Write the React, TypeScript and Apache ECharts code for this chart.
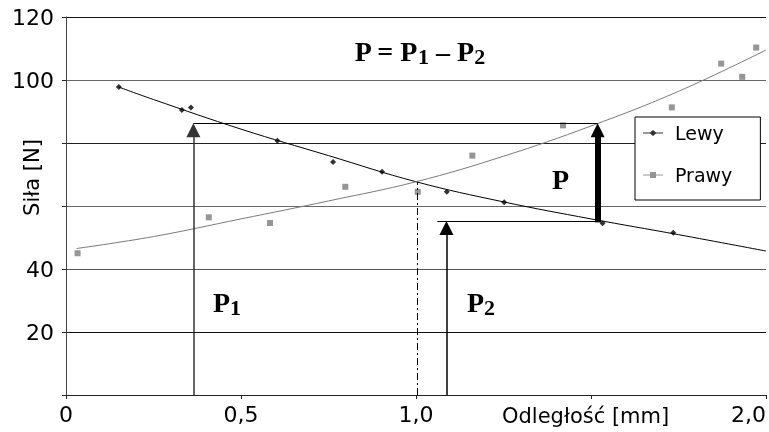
import React, { useEffect, useRef } from 'react';
import * as echarts from 'echarts';

// Measured points
const lewyX = [0.151, 0.331, 0.357, 0.604, 0.763, 0.903, 1.088, 1.252, 1.533, 1.735];
const lewyY = [97.8, 90.5, 91.3, 80.7, 74.0, 70.9, 64.5, 61.2, 54.5, 51.5];
const prawyX = [0.033, 0.408, 0.583, 0.798, 1.005, 1.161, 1.42, 1.731, 1.872, 1.932, 1.972];
const prawyY = [45.0, 56.4, 54.6, 66.1, 64.5, 76.0, 85.6, 91.3, 105.2, 101.0, 110.3];

// Trend lines
const lewyTrendX = [0.15, 0.25, 0.5, 0.75, 1.0, 1.25, 1.5, 1.75, 2.0];
const lewyTrendY = [97.8, 93.8, 84.4, 76.0, 67.7, 61.3, 55.9, 50.9, 45.7];
const prawyTrendX = [0.03, 0.25, 0.5, 0.75, 1.0, 1.25, 1.5, 1.75, 2.0];
const prawyTrendY = [46.5, 50.3, 55.9, 61.6, 67.7, 75.8, 85.4, 96.4, 109.5];

// Tick labels
const xTickLabels = ['0', '0,5', '1,0', '', '2,0'];
const yTickLabels = ['', '20', '40', '', '', '100', '120'];

// Annotations (data units): arrows P1, P2, P
const arrowX = [0.364, 1.087, 1.519];
const arrowFrom = [0, 0, 54.8];
const arrowTo = [86.3, 55.2, 86.3];
// Horizontal level lines
const levelFromX = [0.364, 1.061];
const levelToX = [1.519, 1.519];
const levelY = [86.3, 55.2];
// Intersection of the trend lines
const crossPoint = [1.005, 67.7];

const GRID_TOP = 17;
const GRID_BOTTOM = 37;
const PX_PER_UNIT = (432 - GRID_TOP - GRID_BOTTOM) / 120;
const HEAD = 14;
const headUnits = HEAD / 2 / PX_PER_UNIT;

const serifBold = { fontFamily: 'Liberation Serif', fontWeight: 'bold' as const };
const richP = {
  p: { ...serifBold, fontSize: 28, lineHeight: 32, fill: '#000', color: '#000' },
  s: { ...serifBold, fontSize: 22, lineHeight: 18, verticalAlign: 'bottom' as const, fill: '#000', color: '#000' },
};

export default function App() {
  const ref = useRef<HTMLDivElement>(null);
  useEffect(() => {
    if (!ref.current) return;
    const chart = echarts.init(ref.current, undefined, { renderer: 'svg' });

    const arrowStyles = [
      { color: '#333', width: 1.5, type: 'solid' },
      { color: '#000', width: 1.5, type: 'solid' },
      { color: '#000', width: 6, type: 'solid' },
    ];
    const markData: any[] = [];
    arrowX.forEach((x, i) => {
      markData.push([
        { coord: [x, arrowFrom[i]], symbol: 'none', lineStyle: arrowStyles[i] },
        { coord: [x, arrowTo[i] - headUnits], symbol: 'triangle', symbolSize: HEAD },
      ]);
    });
    levelY.forEach((y, i) => {
      markData.push([
        { coord: [levelFromX[i], y], symbol: 'none', lineStyle: { color: '#000', width: 1, type: 'solid' } },
        { coord: [levelToX[i], y], symbol: 'none' },
      ]);
    });
    markData.push([
      { coord: [crossPoint[0], 0], symbol: 'none', lineStyle: { color: '#000', width: 1, type: [7, 3, 2, 3] } },
      { coord: [crossPoint[0], crossPoint[1]], symbol: 'none' },
    ]);

    const axisFont = { fontFamily: 'DejaVu Sans', fontSize: 22, color: '#000' };

    chart.setOption({
      animation: false,
      grid: { left: 66, right: 0, top: GRID_TOP, bottom: GRID_BOTTOM, containLabel: false },
      xAxis: {
        type: 'value',
        min: 0,
        max: 2,
        interval: 0.5,
        axisLine: { show: true, lineStyle: { color: '#222', width: 1 } },
        axisTick: { show: true, length: 4, lineStyle: { color: '#222' } },
        splitLine: { show: false },
        axisLabel: {
          ...axisFont,
          margin: 8,
          alignMaxLabel: 'right',
          formatter: (v: number) => xTickLabels[Math.round(v / 0.5)] ?? '',
        },
      },
      yAxis: {
        type: 'value',
        min: 0,
        max: 120,
        interval: 20,
        axisLine: { show: true, lineStyle: { color: '#444', width: 1 } },
        axisTick: { show: true, length: 4, lineStyle: { color: '#222' } },
        splitLine: {
          show: true,
          lineStyle: { color: ['#000', '#111', '#555', '#666', '#222', '#666', '#111'], width: 1 },
        },
        axisLabel: {
          ...axisFont,
          margin: 12,
          formatter: (v: number) => yTickLabels[Math.round(v / 20)] ?? '',
        },
      },
      legend: {
        data: [
          { name: 'Lewy', icon: 'path://M0 2.5H7L10 0L13 2.5H20V3.5H13L10 6L7 3.5H0Z' },
          { name: 'Prawy', icon: 'path://M0 2.5H7V0H13V2.5H20V3.5H13V6H7V3.5H0Z' },
        ],
        orient: 'vertical',
        left: 635,
        top: 117,
        itemWidth: 20,
        itemHeight: 6,
        itemGap: 22,
        padding: [6, 28, 15, 8],
        borderColor: '#000',
        borderWidth: 1,
        backgroundColor: '#fff',
        selectedMode: false,
        textStyle: { fontFamily: 'DejaVu Sans', fontSize: 19, color: '#000', lineHeight: 20, padding: [0, 0, 0, 7] },
      },
      series: [
        {
          name: 'Lewy trend',
          type: 'line',
          data: lewyTrendX.map((x, i) => [x, lewyTrendY[i]]),
          smooth: 0.4,
          showSymbol: false,
          silent: true,
          lineStyle: { color: '#000', width: 1 },
          itemStyle: { color: '#000' },
          z: 2,
          markLine: {
            silent: true,
            animation: false,
            symbol: ['none', 'none'],
            label: { show: false },
            emphasis: { disabled: true },
            data: markData,
          },
        },
        {
          name: 'Prawy trend',
          type: 'line',
          data: prawyTrendX.map((x, i) => [x, prawyTrendY[i]]),
          smooth: 0.4,
          showSymbol: false,
          silent: true,
          lineStyle: { color: '#7a7a7a', width: 1 },
          itemStyle: { color: '#7a7a7a' },
          z: 2,
        },
        {
          name: 'Lewy',
          type: 'scatter',
          data: lewyX.map((x, i) => [x, lewyY[i]]),
          symbol: 'diamond',
          symbolSize: 6,
          itemStyle: { color: '#000' },
          z: 3,
        },
        {
          name: 'Prawy',
          type: 'scatter',
          data: prawyX.map((x, i) => [x, prawyY[i]]),
          symbol: 'rect',
          symbolSize: 6,
          itemStyle: { color: '#7a7a7a' },
          z: 3,
        },
      ],
      graphic: [
        {
          type: 'text',
          x: 32,
          y: 177.5,
          rotation: Math.PI / 2,
          style: { text: 'Siła [N]', fontFamily: 'DejaVu Sans', fontSize: 21, fill: '#000', align: 'center', verticalAlign: 'middle' },
        },
        {
          type: 'text',
          x: 502,
          y: 416,
          style: { text: 'Odległość [mm]', fontFamily: 'DejaVu Sans', fontSize: 21, fill: '#000', align: 'left', verticalAlign: 'middle' },
        },
        {
          type: 'text',
          x: 419.5,
          y: 51,
          style: { text: '{p|P = P}{s|1}{p| – P}{s|2}', rich: richP, align: 'center', verticalAlign: 'middle' },
        },
        {
          type: 'text',
          x: 213,
          y: 302,
          style: { text: '{p|P}{s|1}', rich: richP, align: 'left', verticalAlign: 'middle' },
        },
        {
          type: 'text',
          x: 467,
          y: 302,
          style: { text: '{p|P}{s|2}', rich: richP, align: 'left', verticalAlign: 'middle' },
        },
        {
          type: 'text',
          x: 552,
          y: 179,
          style: { text: '{p|P}', rich: richP, align: 'left', verticalAlign: 'middle' },
        },
      ],
    });
    return () => chart.dispose();
  }, []);
  return <div ref={ref} style={{ position: 'fixed', left: 0, top: 0, width: 769, height: 432 }} />;
}
